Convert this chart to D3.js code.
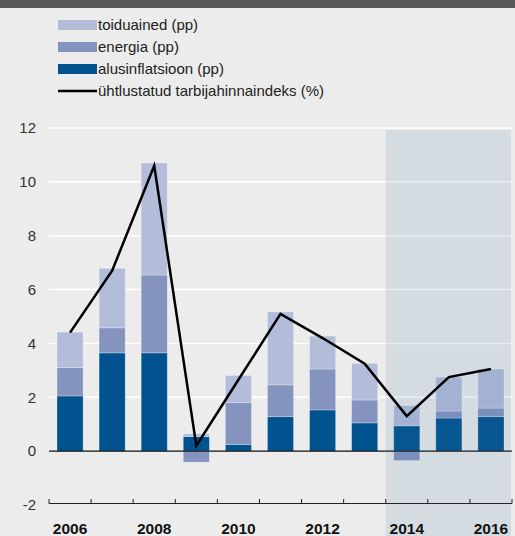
<!DOCTYPE html>
<html>
<head>
<meta charset="utf-8">
<script src="https://cdn.jsdelivr.net/npm/d3@7/dist/d3.min.js"></script>
<style>
  html, body { margin: 0; padding: 0; background: #ebeceb; }
  svg { display: block; font-family: "Liberation Sans", Arial, sans-serif; }
</style>
</head>
<body>
<div id="chart"></div>
<script>
// inflation decomposition, 2006-2016 (2014+ forecast)
var years = [2006, 2007, 2008, 2009, 2010, 2011, 2012, 2013, 2014, 2015, 2016];
var core = [2.05, 3.65, 3.65, 0.54, 0.25, 1.28, 1.53, 1.05, 0.94, 1.23, 1.28];
var energy = [1.05, 0.93, 2.89, -0.41, 1.55, 1.18, 1.52, 0.85, -0.35, 0.26, 0.32];
var food = [1.32, 2.21, 4.16, 0.10, 1.01, 2.71, 1.22, 1.36, 0.75, 1.26, 1.45];
var hicp = [4.4, 6.7, 10.6, 0.2, 2.65, 5.1, 4.2, 3.25, 1.3, 2.75, 3.05];
var yTicks = [-2, 0, 2, 4, 6, 8, 10, 12];
var yearLabels = [2006, 2008, 2010, 2012, 2014, 2016];
var forecastFrom = 2014;

var legendItems = [
    {label: "toiduained (pp)", color: "#b3bcd8", type: "bar"},
    {label: "energia (pp)", color: "#8594bf", type: "bar"},
    {label: "alusinflatsioon (pp)", color: "#00538f", type: "bar"},
    {label: "ühtlustatud tarbijahinnaindeks (%)", color: "#000", type: "line"}
];

var width = 515;
var height = 536;

var svg = d3.select("#chart").append("svg")
    .attr("width", width)
    .attr("height", height);

svg.append("rect").attr("width", width).attr("height", height).attr("fill", "#ebeceb");
svg.append("rect").attr("width", width).attr("height", 8).attr("fill", "#58585a");

// legend
var leg = svg.append("g");
legendItems.forEach(function(d, i) {
    var cy = 25 + i * 22;
    if (d.type === "bar") {
        leg.append("rect")
            .attr("x", 58).attr("y", cy - 5)
            .attr("width", 39).attr("height", 10)
            .attr("fill", d.color);
    } else {
        leg.append("line")
            .attr("x1", 58).attr("x2", 97)
            .attr("y1", cy).attr("y2", cy)
            .attr("stroke", d.color).attr("stroke-width", 2.5);
    }
    leg.append("text")
        .attr("x", 98).attr("y", cy)
        .attr("dy", "0.35em")
        .style("font-size", "15px")
        .attr("fill", "#222")
        .text(d.label);
});

var x = d3.scaleBand().domain(years).range([49, 512]).paddingInner(0.38).paddingOuter(0.19);
var xb = d3.scaleBand().domain(years).range([49, 512]);
var y = d3.scaleLinear().domain([-2, 12]).range([505, 128]);

// gridlines
svg.append("g").selectAll("line").data(yTicks.filter(function(t) { return t > 0; }))
    .enter().append("line")
    .attr("x1", 49).attr("x2", 512)
    .attr("y1", function(d) { return y(d); })
    .attr("y2", function(d) { return y(d); })
    .attr("stroke", "#fff").attr("stroke-width", 1.5);

// stacked bars
var rows = years.map(function(yr, i) {
    return {year: yr, core: core[i], energy: energy[i], food: food[i]};
});
var keys = ["core", "energy", "food"];
var colors = {core: "#00538f", energy: "#8594bf", food: "#b3bcd8"};
var series = d3.stack().keys(keys).offset(d3.stackOffsetDiverging)(rows);

svg.append("g").selectAll("g").data(series).enter().append("g")
    .attr("fill", function(s) { return colors[s.key]; })
    .selectAll("rect").data(function(s) { return s; })
    .enter().append("rect")
    .attr("x", function(d) { return x(d.data.year); })
    .attr("width", x.bandwidth())
    .attr("y", function(d) { return y(Math.max(d[0], d[1])); })
    .attr("height", function(d) { return Math.abs(y(d[0]) - y(d[1])); })
    .attr("stroke", "rgba(255,255,255,0.35)")
    .attr("stroke-width", 0.8);

// zero line
svg.append("line")
    .attr("x1", 49).attr("x2", 512)
    .attr("y1", y(0)).attr("y2", y(0))
    .attr("stroke", "#111").attr("stroke-width", 1.2);

// forecast shading
svg.append("rect")
    .attr("x", xb(forecastFrom))
    .attr("y", 130)
    .attr("width", 511 - xb(forecastFrom))
    .attr("height", height - 130)
    .attr("fill", "rgb(59,108,171)")
    .attr("fill-opacity", 0.125);

// x axis
var xAxis = svg.append("g");
xAxis.append("line")
    .attr("x1", 49).attr("x2", 512)
    .attr("y1", y(-2) - 1.5).attr("y2", y(-2) - 1.5)
    .attr("stroke", "#222").attr("stroke-width", 1.2);
xAxis.selectAll("line.tick").data(years.concat([years[years.length - 1] + 1]))
    .enter().append("line").attr("class", "tick")
    .attr("x1", function(d, i) { return 49 + i * xb.step(); })
    .attr("x2", function(d, i) { return 49 + i * xb.step(); })
    .attr("y1", y(-2) - 1.5).attr("y2", y(-2) - 6)
    .attr("stroke", "#222").attr("stroke-width", 1);
xAxis.selectAll("text").data(yearLabels).enter().append("text")
    .attr("x", function(d) { return xb(d) + xb.bandwidth() / 2; })
    .attr("y", 534)
    .attr("text-anchor", "middle")
    .style("font-size", "15.5px")
    .style("font-weight", "bold")
    .attr("fill", "#111")
    .text(function(d) { return d; });

// y labels
svg.append("g").selectAll("text").data(yTicks).enter().append("text")
    .attr("x", 36)
    .attr("y", function(d) { return y(d); })
    .attr("dy", "0.35em")
    .attr("text-anchor", "end")
    .style("font-size", "15px")
    .attr("fill", "#333")
    .text(function(d) { return d; });

// HICP line
var line = d3.line()
    .x(function(d) { return xb(d.year) + xb.bandwidth() / 2; })
    .y(function(d) { return y(d.v); });
svg.append("path")
    .datum(years.map(function(yr, i) { return {year: yr, v: hicp[i]}; }))
    .attr("d", line)
    .attr("fill", "none")
    .attr("stroke", "#000")
    .attr("stroke-width", 2.5)
    .attr("stroke-linejoin", "miter");
</script>
</body>
</html>
